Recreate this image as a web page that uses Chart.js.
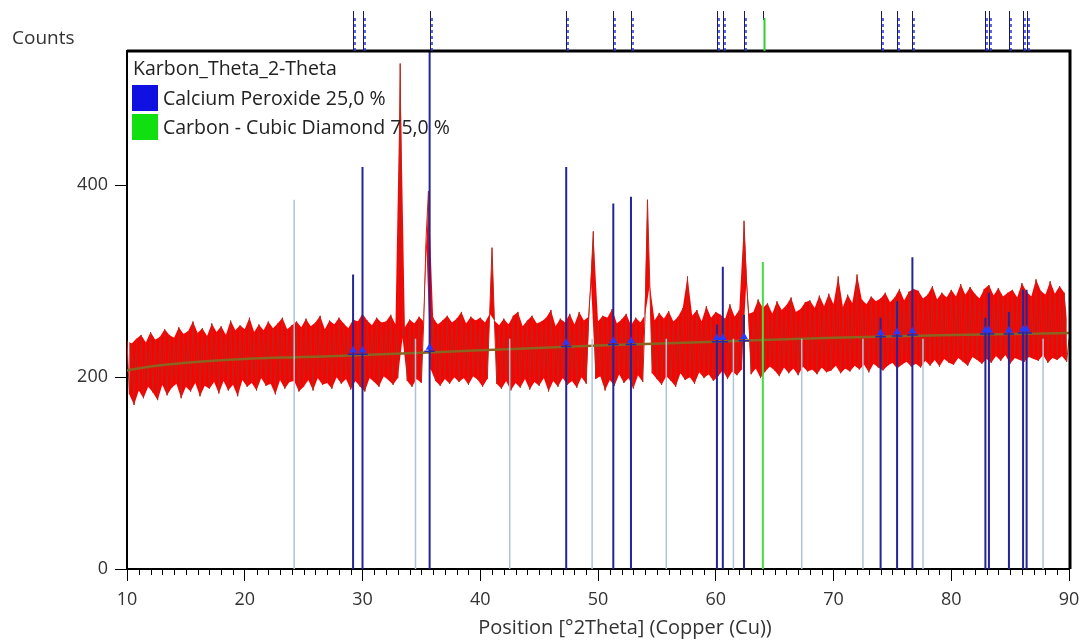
<!DOCTYPE html>
<html><head><meta charset="utf-8">
<script src="https://cdn.jsdelivr.net/npm/chart.js@4.4.1/dist/chart.umd.min.js"></script>
<style>html,body{margin:0;padding:0;background:#fff;}#wrap{width:1083px;height:641px;}</style>
</head><body><div id="wrap"><canvas id="c" width="1083" height="641"></canvas></div>
<script>
// ---- data ----
const xStart = 10, xStep = 0.2;
const counts = [
238,182,235,171,240, 186,244,178,236,190, 247,184,239,176,242, 192,250,181,244,189,
241,193,252,178,245, 190,248,185,258,194, 246,180,251,191,243, 188,256,195,247,183,
253,196,244,186,259, 192,249,180,254,197, 250,190,262,194,247, 186,255,199,249,191,
258,193,251,182,256, 197,262,188,250,195, 254,196,258,185,252, 190,261,197,253,186,
257,199,264,192,250, 194,259,188,255,200, 262,193,256,198,251, 187,260,196,258,190,
266,185,259,199,254, 195,262,190,257,201, 258,197,265,192,255, 199,527,241,252,196,
260,190,256,198,263, 194,258,345,394,208, 262,196,255,191,259, 198,264,193,257,200,
261,195,268,199,256, 192,263,201,259,197,
262,190,257,198,266, 335,259,193,254,188, 261,196,255,186,264, 194,268,189,253,198,
259,187,264,195,256, 191,258,199,262,185, 270,196,253,190,261, 199,257,192,266,196,
255,189,268,200,259, 193,263,300,352,198, 258,201,264,186,262, 197,271,191,256,203,
260,194,266,199,254, 188,262,202,257,195, 265,385,296,204,259, 198,267,192,261,201,
269,196,258,190,263, 204,272,197,305,200, 264,193,270,205,258, 199,274,203,262,196,
268,201,265,207,261, 198,276,206,263,202, 270,208,363,300,266, 203,268,209,281,199,
272,206,277,211,266, 207,279,201,270,210, 275,204,283,209,268, 202,271,211,278,206,
280,208,272,203,285, 210,274,205,287,207, 276,212,305,204,273, 209,286,206,277,212,
307,208,281,213,276, 205,284,214,279,210, 282,207,288,212,278, 215,283,209,292,213,
280,216,289,211,292, 214,290,210,282,217, 286,212,295,218,281, 211,288,219,283,215,
291,213,284,220,297, 216,286,212,294,221, 287,218,282,214,292, 219,296,215,285,222,
293,217,284,223,288, 214,291,220,283,218, 298,216,289,221,284, 219,302,217,290,223,
286,215,300,220,287, 218,295,222,288,216,
240
];
const bgPos = [10, 12, 15, 20, 25, 30, 40, 50, 60, 70, 80, 90];
const bgVal = [207, 211, 215, 219, 221, 223, 228, 233, 237, 241, 244, 246];
const caoPos = [29.2, 30.0, 35.7, 47.3, 51.3, 52.8, 60.1, 60.6, 62.4, 74.0, 75.4, 76.7, 82.9, 83.2, 84.9, 86.1, 86.4];
const caoHeight = [307, 419, 540, 419, 381, 388, 255, 315, 265, 262, 279, 325, 262, 288, 268, 291, 291];
const caoBase = [224, 224, 227, 232, 234, 234, 237, 237, 238, 242, 243, 244, 245, 245, 245, 246, 246];
const otherPos = [24.2, 34.5, 42.5, 49.5, 55.8, 61.5, 67.3, 72.5, 77.6, 87.8];
const otherHeight = [385, 240, 240, 240, 240, 240, 240, 240, 240, 240];
const diamondPos = [64.0];
const diamondHeight = [320];
const xTicks = [10, 20, 30, 40, 50, 60, 70, 80, 90];
const yTicks = [0, 200, 400];
const xTitle = 'Position [°2Theta] (Copper (Cu))';
const yTitle = 'Counts';
const legendTitle = 'Karbon_Theta_2-Theta';
const legendItems = ['Calcium Peroxide 25,0 %', 'Carbon - Cubic Diamond 75,0 %'];
const legendColors = ['#1010e0', '#10e010'];

// ---- build ----
const FONT = "'Open Sans', 'Noto Sans', sans-serif";
Chart.defaults.font.family = FONT;
const spectrum = counts.map((c, i) => ({x: +(xStart + i * xStep).toFixed(2), y: c}));
const upper = spectrum.filter((p, i) => i % 2 === 0);
const lower = spectrum.filter((p, i) => i % 2 === 1);
const trend = bgPos.map((p, i) => ({x: p, y: bgVal[i]}));
function sticks(pos, h) { const out = []; pos.forEach((p, i) => { out.push({x: p, y: 0}, {x: p, y: h[i]}, {x: p, y: null}); }); return out; }
const widthSegs = []; caoPos.forEach((p, i) => { widthSegs.push({x: p - 0.45, y: caoBase[i]}, {x: p + 0.45, y: caoBase[i]}, {x: p, y: null}); });
const tri = caoPos.map((p, i) => ({x: p, y: caoBase[i] + 4}));

const framePlugin = {
  id: 'frame',
  afterDraw(chart) {
    const ctx = chart.ctx, a = chart.chartArea, xs = chart.scales.x;
    ctx.save();
    ctx.strokeStyle = '#000'; ctx.lineWidth = 1;
    for (let v = xs.min + 1; v < xs.max; v += 1) {
      if (Math.abs(v % 10) < 1e-6) continue;
      const px = Math.round(xs.getPixelForValue(v)) + 0.5;
      ctx.beginPath(); ctx.moveTo(px, a.bottom); ctx.lineTo(px, a.bottom + 6); ctx.stroke();
    }
    ctx.lineWidth = 3; ctx.strokeStyle = '#000';
    ctx.beginPath(); ctx.moveTo(a.left, a.top); ctx.lineTo(a.right + 1, a.top); ctx.lineTo(a.right + 1, a.bottom); ctx.stroke();
    caoPos.forEach(p => {
      const px = Math.round(xs.getPixelForValue(p)) + 0.5;
      ctx.setLineDash([]); ctx.lineWidth = 1; ctx.strokeStyle = '#1a1a50';
      ctx.beginPath(); ctx.moveTo(px, 11); ctx.lineTo(px, a.top); ctx.stroke();
      ctx.setLineDash([3, 3]); ctx.lineWidth = 1.5; ctx.strokeStyle = '#2233dd';
      ctx.beginPath(); ctx.moveTo(px + 1.5, 18); ctx.lineTo(px + 1.5, a.top); ctx.stroke();
    });
    diamondPos.forEach(p => {
      const px = Math.round(xs.getPixelForValue(p)) + 0.5;
      ctx.setLineDash([]); ctx.lineWidth = 1; ctx.strokeStyle = '#1a1a50';
      ctx.beginPath(); ctx.moveTo(px, 11); ctx.lineTo(px, 20); ctx.stroke();
      ctx.lineWidth = 2; ctx.strokeStyle = '#30d030';
      ctx.beginPath(); ctx.moveTo(px + 1, 18); ctx.lineTo(px + 1, a.top); ctx.stroke();
    });
    ctx.setLineDash([]);
    ctx.fillStyle = '#333'; ctx.font = '19px ' + FONT; ctx.textBaseline = 'middle'; ctx.textAlign = 'left';
    ctx.fillText(yTitle, 12, 39);
    ctx.textAlign = 'center'; ctx.font = '20px ' + FONT;
    ctx.fillText(xTitle, 625, 628);
    ctx.textAlign = 'left';
    ctx.fillStyle = '#222'; ctx.font = '19.5px ' + FONT; ctx.textBaseline = 'alphabetic';
    ctx.fillText(legendTitle, a.left + 6, a.top + 24);
    legendItems.forEach((t, i) => {
      const y0 = a.top + 34 + i * 29;
      ctx.fillStyle = legendColors[i]; ctx.fillRect(a.left + 5, y0, 26, 26);
      ctx.fillStyle = '#222'; ctx.fillText(t, a.left + 36, y0 + 20);
    });
    ctx.restore();
  }
};

new Chart(document.getElementById('c'), {
  type: 'line',
  data: { datasets: [
    {order: 20, data: upper, borderWidth: 0, borderColor: 'rgba(0,0,0,0)', backgroundColor: '#ff0000', fill: '+1', pointRadius: 0, tension: 0},
    {order: 19, data: lower, borderWidth: 0, borderColor: 'rgba(0,0,0,0)', pointRadius: 0, tension: 0, fill: false},
    {order: 18, data: spectrum, borderColor: '#b8281c', borderWidth: 1, pointRadius: 0, tension: 0, fill: false},
    {order: 10, data: trend, borderColor: '#8a6420', borderWidth: 2.5, pointRadius: 0, cubicInterpolationMode: 'monotone', fill: false},
    {order: 9, data: sticks(otherPos, otherHeight), borderColor: '#b0c4d8', borderWidth: 1.5, pointRadius: 0, spanGaps: false, fill: false},
    {order: 7, data: sticks(caoPos, caoHeight), borderColor: '#25259a', borderWidth: 2, pointRadius: 0, spanGaps: false, fill: false},
    {order: 6, data: sticks(diamondPos, diamondHeight), borderColor: '#44dd44', borderWidth: 2, pointRadius: 0, spanGaps: false, fill: false},
    {order: 5, data: widthSegs, borderColor: '#2a2aa8', borderWidth: 1.5, pointRadius: 0, spanGaps: false, fill: false},
    {order: 4, data: tri, showLine: false, pointStyle: 'triangle', pointRadius: 4.5, pointBackgroundColor: '#1f3cff', pointBorderColor: '#1f3cff', pointBorderWidth: 0}
  ]},
  options: {
    responsive: false, animation: false, devicePixelRatio: 1,
    layout: {padding: {left: 0, right: 14, top: 51, bottom: 0}},
    plugins: {legend: {display: false}, tooltip: {enabled: false}},
    scales: {
      x: {
        type: 'linear', min: 10, max: 90,
        afterBuildTicks: s => { s.ticks = xTicks.map(v => ({value: v})); },
        afterFit: s => { s.height = 72; s.paddingLeft = 0; s.paddingRight = 0; },
        grid: {drawOnChartArea: false, drawTicks: true, tickLength: 12, tickColor: '#000', tickWidth: 1},
        border: {display: true, color: '#000', width: 2},
        ticks: {color: '#333', font: {size: 18}, padding: 8, maxRotation: 0, autoSkip: false},
        title: {display: false}
      },
      y: {
        type: 'linear', min: 0, max: 540,
        afterBuildTicks: s => { s.ticks = yTicks.map(v => ({value: v})); },
        afterFit: s => { s.width = 127; s.paddingTop = 0; s.paddingBottom = 0; },
        grid: {drawOnChartArea: false, drawTicks: true, tickLength: 12, tickColor: '#000', tickWidth: 1},
        border: {display: true, color: '#000', width: 2},
        ticks: {color: '#333', font: {size: 18}, padding: 7}
      }
    }
  },
  plugins: [framePlugin]
});
</script></body></html>
